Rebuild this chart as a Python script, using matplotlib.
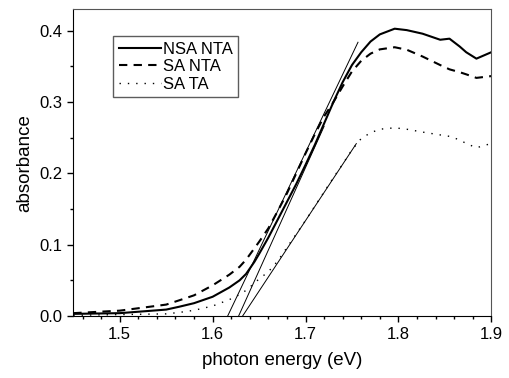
import numpy as np
import matplotlib
matplotlib.use('Agg')
import matplotlib.pyplot as plt
from matplotlib.ticker import MultipleLocator

plt.rcParams['font.family'] = ['Liberation Sans', 'DejaVu Sans']

# Absorbance spectra
energy = [1.45, 1.50, 1.55, 1.564, 1.58, 1.60, 1.618, 1.629, 1.636, 1.645,
          1.65, 1.66, 1.67, 1.68, 1.69, 1.70, 1.71, 1.72, 1.73, 1.74, 1.75,
          1.76, 1.77, 1.78, 1.796, 1.809, 1.826, 1.845, 1.855, 1.866, 1.873,
          1.884, 1.9]
nsa_nta = [0.003, 0.004, 0.009, 0.013, 0.018, 0.027, 0.040, 0.050, 0.059,
           0.076, 0.087, 0.110, 0.135, 0.160, 0.185, 0.212, 0.240, 0.270,
           0.300, 0.328, 0.352, 0.370, 0.385, 0.395, 0.403, 0.401, 0.396,
           0.3875, 0.389, 0.378, 0.370, 0.361, 0.370]
sa_nta = [0.004, 0.0075, 0.016, 0.022, 0.029, 0.043, 0.058, 0.069, 0.079,
          0.095, 0.104, 0.123, 0.147, 0.172, 0.200, 0.228, 0.255, 0.280,
          0.300, 0.322, 0.343, 0.358, 0.368, 0.374, 0.377, 0.3735, 0.364,
          0.352, 0.346, 0.342, 0.339, 0.334, 0.3365]
sa_ta = [0.001, 0.002, 0.003, 0.005, 0.008, 0.014, 0.023, 0.030, 0.036,
         0.046, 0.052, 0.062, 0.077, 0.096, 0.115, 0.134, 0.154, 0.174,
         0.194, 0.213, 0.233, 0.249, 0.257, 0.262, 0.264, 0.262, 0.258,
         0.254, 0.252, 0.247, 0.242, 0.236, 0.242]

# Linear fits (band-edge extrapolations): start/end energy and absorbance
fit_x = [[1.6162, 1.7565], [1.628, 1.72], [1.6323, 1.7547]]
fit_y = [[0.0, 0.384], [0.0, 0.266], [0.0, 0.2418]]


def main():
    fig = plt.figure(figsize=(5.10, 3.78), dpi=100)
    ax = fig.add_axes([0.1437, 0.164, 0.8196, 0.811])

    ax.plot(energy, nsa_nta, color='black', lw=1.5, label='NSA NTA')
    ax.plot(energy, sa_nta, color='black', lw=1.5, dashes=(4, 3),
            label='SA NTA')
    ax.plot(energy, sa_ta, color='black', lw=1.0, linestyle=(0, (1, 5)),
            label='SA TA')

    for fx, fy in zip(fit_x, fit_y):
        ax.plot(fx, fy, color='black', lw=0.7)

    ax.set_xlim(1.45, 1.9)
    ax.set_ylim(0, 0.43)
    ax.xaxis.set_major_locator(MultipleLocator(0.1))
    ax.xaxis.set_minor_locator(MultipleLocator(0.02))
    ax.yaxis.set_major_locator(MultipleLocator(0.1))
    ax.yaxis.set_minor_locator(MultipleLocator(0.05))
    ax.tick_params(which='major', direction='out', length=4.5, width=1,
                   labelsize=12)
    ax.tick_params(which='minor', direction='out', length=2.5, width=1)
    ax.yaxis.set_major_formatter(plt.FormatStrFormatter('%.1f'))
    for side in ['top', 'right']:
        ax.spines[side].set_color('#555555')

    ax.set_xlabel('photon energy (eV)', fontsize=13.5, labelpad=7)
    ax.set_ylabel('absorbance', fontsize=13.5, labelpad=4)

    leg = ax.legend(loc='upper left', bbox_to_anchor=(0.096, 0.914),
                    fontsize=12, frameon=True, fancybox=False,
                    edgecolor='#333333', borderpad=0.35, labelspacing=0.15,
                    handlelength=2.5, handletextpad=0.1, borderaxespad=0)
    leg.get_frame().set_linewidth(1.0)

    fig.savefig('out.png', dpi=100)


if __name__ == '__main__':
    main()
